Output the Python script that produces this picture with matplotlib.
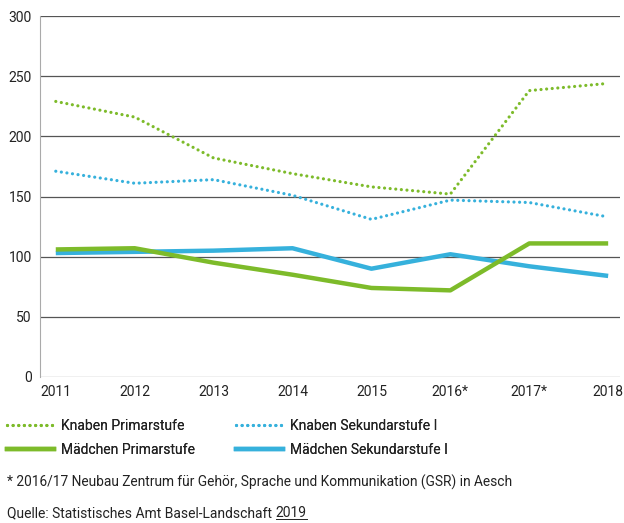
import matplotlib.pyplot as plt
from matplotlib.lines import Line2D

plt.rcParams['font.family'] = ['Roboto', 'DejaVu Sans']

years = ["2011", "2012", "2013", "2014", "2015", "2016*", "2017*", "2018"]
knaben_primar = [229, 216, 182, 169, 158, 152, 238, 244]
knaben_sek = [171, 161, 164, 151, 131, 147, 145, 133]
maedchen_primar = [106, 107, 95, 85, 74, 72, 111, 111]
maedchen_sek = [103, 104, 105, 107, 90, 102, 92, 84]
yticks = [0, 50, 100, 150, 200, 250, 300]

GREEN = "#7dbb2a"
BLUE = "#36b1dc"
TXT = "#222222"
W, H = 624, 523

fig = plt.figure(figsize=(W / 100, H / 100), dpi=100)
ax = fig.add_axes([40 / W, 1 - 377 / H, 580 / W, 361 / H])

x = range(len(years))
dot = (0, (0.01, 1.75))
ax.plot(x, knaben_primar, color=GREEN, lw=2.3, ls=dot, dash_capstyle="round", zorder=4)
ax.plot(x, knaben_sek, color=BLUE, lw=2.3, ls=dot, dash_capstyle="round", zorder=4)
ax.plot(x, maedchen_primar, color=GREEN, lw=3.2, solid_capstyle="butt", zorder=5)
ax.plot(x, maedchen_sek, color=BLUE, lw=3.2, solid_capstyle="butt", zorder=4)

ax.set_xlim(-0.2, 7.15)
ax.set_ylim(0, 300)
ax.set_yticks(yticks)
ax.set_xticks(list(x))
ax.set_xticklabels(years)
for yv in yticks:
    ax.axhline(yv, color="#555555" if yv else "#888888", lw=0.9, zorder=1)
for s in ["top", "right", "bottom"]:
    ax.spines[s].set_visible(False)
ax.spines["left"].set_color("#aaaaaa")
ax.spines["left"].set_linestyle((0, (1, 1)))
ax.spines["left"].set_linewidth(0.8)
ax.tick_params(length=0, labelsize=10, colors=TXT)
ax.tick_params(axis="y", pad=6)
ax.tick_params(axis="x", pad=6)

legend_cols = [
    (7, [(GREEN, "Knaben Primarstufe", True), (GREEN, "Mädchen Primarstufe", False)]),
    (236, [(BLUE, "Knaben Sekundarstufe I", True), (BLUE, "Mädchen Sekundarstufe I", False)]),
]
for x0, entries in legend_cols:
    hs = [Line2D([], [], color=c, lw=2.3 if d else 3.2, ls=dot if d else "-",
                 dash_capstyle="round") for c, _, d in entries]
    lg = fig.legend(hs, [l for _, l, _ in entries], loc="upper left",
                    bbox_to_anchor=(x0 / W, 1 - 419 / H), frameon=False,
                    fontsize=10, handlelength=3.4, handletextpad=0.5,
                    labelspacing=0.72, borderpad=0, borderaxespad=0,
                    labelcolor=TXT)
    fig.add_artist(lg)

fig.text(7 / W, 1 - 482 / H,
         "* 2016/17 Neubau Zentrum für Gehör, Sprache und Kommunikation (GSR) in Aesch",
         fontsize=9.9, va="center", ha="left", color=TXT)
t1 = fig.text(7 / W, 1 - 513 / H, "Quelle: Statistisches Amt Basel-Landschaft ",
              fontsize=10, va="center", ha="left", color=TXT)
fig.canvas.draw()
bb = t1.get_window_extent()
t2 = fig.text(bb.x1 / W, 1 - 513 / H, "2019", fontsize=10, va="center",
              ha="left", color=TXT)
fig.canvas.draw()
bb2 = t2.get_window_extent()
yline = (bb2.y0 + 1) / H
fig.add_artist(Line2D([bb2.x0 / W, bb2.x1 / W], [yline, yline],
                      color=TXT, lw=0.7))

fig.savefig("out.png", dpi=100)
